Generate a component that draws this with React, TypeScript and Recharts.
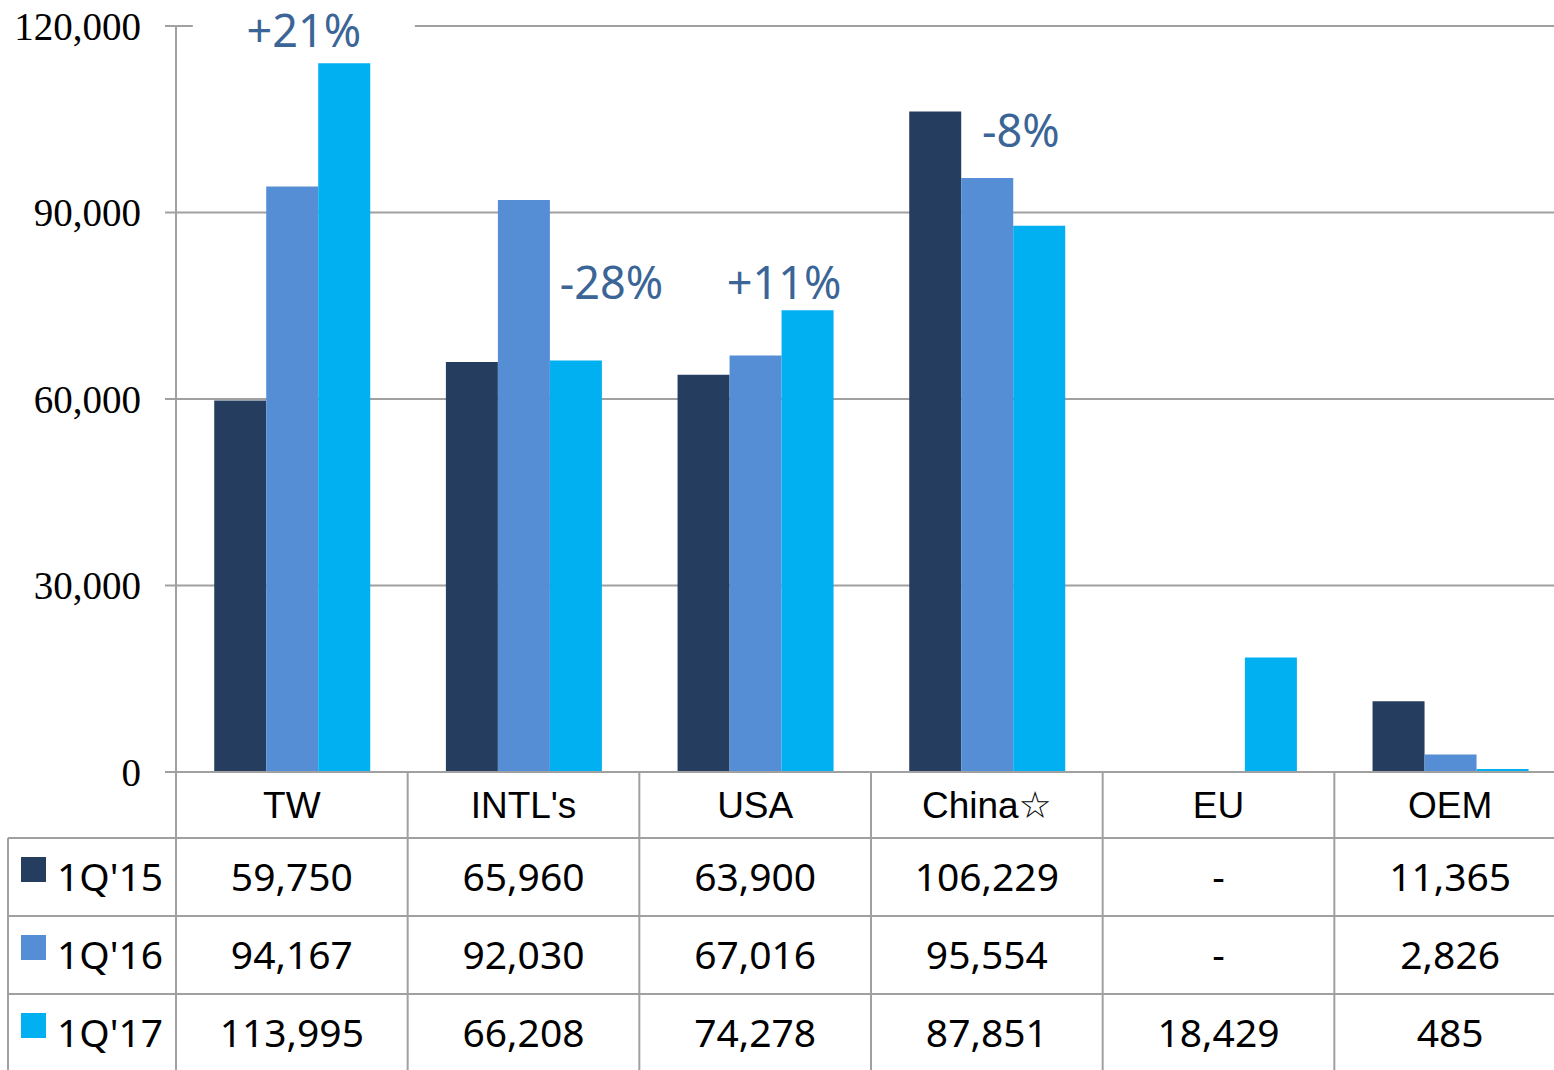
import { BarChart, Bar, XAxis, YAxis, CartesianGrid, ReferenceDot } from "recharts";

const categories = ["TW", "INTL's", "USA", "China☆", "EU", "OEM"];
const seriesNames = ["1Q'15", "1Q'16", "1Q'17"];
const q15 = [59750, 65960, 63900, 106229, null, 11365];
const q16 = [94167, 92030, 67016, 95554, null, 2826];
const q17 = [113995, 66208, 74278, 87851, 18429, 485];
const yTicks = [0, 30000, 60000, 90000, 120000];

// growth call-outs (category, value height, text)
const annCats = ["TW", "INTL's", "USA", "China☆"];
const annValues = [119200, 78700, 78700, 103100];
const annTexts = ["+21%", "-28%", "+11%", "-8%"];
const ANN_DX = [12, 88, 29, 34];
const ANN_BG = [true, false, false, false];

const COLORS = ["#253E5F", "#558ED5", "#00B0F0"];
const GRID = "#a0a0a0";
const ANN_COLOR = "#3A6596";

const CHART_W = 1566;
const CHART_H = 1070;
const Y_W = 176;
const TOP = 26;
const AXIS_H = 298;
const HEAD_H = 66;
const ROW_H = 78;
const CELL_W = (CHART_W - Y_W) / categories.length;

const NUM_FONT = "'Noto Sans', 'Open Sans', sans-serif";
const CAT_FONT = "'Liberation Sans', Arial, 'DejaVu Sans', sans-serif";

const data = categories.map((c, i) => ({ cat: c, q15: q15[i], q16: q16[i], q17: q17[i] }));
const rows = [q15, q16, q17];

function TableTick(props: any) {
  const { x, y, payload, index } = props;
  const i = index;
  const half = CELL_W / 2;
  const left = x - half;
  return (
    <g>
      {i === 0 && (
        <g>
          <line x1={left} y1={y} x2={left} y2={y + AXIS_H} stroke={GRID} strokeWidth={2} />
          <line x1={8} y1={y + HEAD_H} x2={8} y2={y + AXIS_H} stroke={GRID} strokeWidth={2} />
          {[0, 1, 2].map((r) => (
            <line
              key={r}
              x1={8}
              y1={y + HEAD_H + r * ROW_H}
              x2={CHART_W}
              y2={y + HEAD_H + r * ROW_H}
              stroke={GRID}
              strokeWidth={2}
            />
          ))}
          {seriesNames.map((n, r) => {
            const cy = y + HEAD_H + r * ROW_H + ROW_H / 2;
            return (
              <g key={n}>
                <rect x={21} y={cy - 20} width={25} height={25} fill={COLORS[r]} />
                <text
                  x={57}
                  y={cy}
                  dy="0.36em"
                  fontFamily={NUM_FONT}
                  fontSize={39}
                  fill="#000"
                >
                  {n}
                </text>
              </g>
            );
          })}
        </g>
      )}
      <line x1={x + half} y1={y} x2={x + half} y2={y + AXIS_H} stroke={GRID} strokeWidth={2} />
      <text
        x={x}
        y={y + HEAD_H / 2}
        dy="0.36em"
        textAnchor="middle"
        fontFamily={CAT_FONT}
        fontSize={37}
        fill="#000"
      >
        {payload.value}
      </text>
      {rows.map((row, r) => {
        const v = row[i];
        return (
          <text
            key={r}
            x={x}
            y={y + HEAD_H + r * ROW_H + ROW_H / 2}
            dy="0.36em"
            textAnchor="middle"
            fontFamily={NUM_FONT}
            fontSize={39}
            fill="#000"
          >
            {v == null ? "-" : v.toLocaleString("en-US")}
          </text>
        );
      })}
    </g>
  );
}

function Callout(text: string, dx: number, bg: boolean) {
  return (props: any) => {
    const { cx, cy } = props;
    const w = text.length * 28 + 110;
    return (
      <g>
        {bg && <rect x={cx + dx - w / 2} y={cy - 20} width={w} height={40} fill="#fff" />}
        <text
          x={cx + dx}
          y={cy}
          dy="0.36em"
          textAnchor="middle"
          fontFamily={NUM_FONT}
          fontSize={45}
          fill={ANN_COLOR}
        >
          {text}
        </text>
      </g>
    );
  };
}

export default function App() {
  return (
    <div
      style={{
        position: "absolute",
        left: 0,
        top: 0,
        width: 1554,
        height: 1070,
        overflow: "hidden",
        background: "#fff",
      }}
    >
      <BarChart
        width={CHART_W}
        height={CHART_H}
        data={data}
        margin={{ top: TOP, right: 0, bottom: 0, left: 0 }}
        barCategoryGap="16.5%"
        barGap={0}
      >
        <CartesianGrid vertical={false} stroke={GRID} strokeWidth={2} />
        <XAxis
          dataKey="cat"
          height={AXIS_H}
          axisLine={{ stroke: GRID, strokeWidth: 2 }}
          tickLine={false}
          tickSize={0}
          tickMargin={0}
          interval={0}
          tick={<TableTick />}
        />
        <YAxis
          width={Y_W}
          domain={[0, 120000]}
          ticks={yTicks}
          interval={0}
          axisLine={{ stroke: GRID, strokeWidth: 2 }}
          tickLine={{ stroke: GRID, strokeWidth: 2 }}
          tickSize={11}
          tickMargin={24}
          tickFormatter={(v: number) => v.toLocaleString("en-US")}
          tick={{ fill: "#000", fontSize: 39, fontFamily: "'Liberation Serif', 'Times New Roman', serif" }}
        />
        <Bar dataKey="q15" name={seriesNames[0]} fill={COLORS[0]} isAnimationActive={false} />
        <Bar dataKey="q16" name={seriesNames[1]} fill={COLORS[1]} isAnimationActive={false} />
        <Bar dataKey="q17" name={seriesNames[2]} fill={COLORS[2]} isAnimationActive={false} />
        {annCats.map((c, k) => (
          <ReferenceDot
            key={c}
            x={c}
            y={annValues[k]}
            r={0}
            ifOverflow="visible"
            shape={Callout(annTexts[k], ANN_DX[k], ANN_BG[k])}
          />
        ))}
      </BarChart>
    </div>
  );
}
